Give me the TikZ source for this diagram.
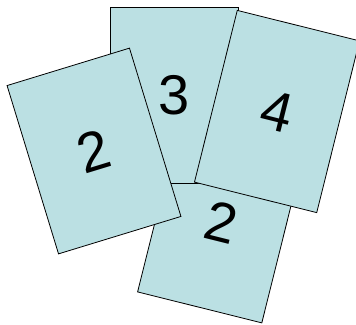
\documentclass[tikz,border=0pt]{standalone}
\usepackage{fontspec}
\setmainfont{Liberation Sans}
\usepackage{tikz}
\definecolor{cardblue}{RGB}{187,224,227}

\begin{document}
\begin{tikzpicture}[
  x=1pt,y=-1pt,
  card/.style={draw,line width=0.8pt,fill=cardblue,minimum width=128pt,minimum height=176pt,inner sep=0pt,
    font=\fontsize{56}{56}\selectfont}
]
\useasboundingbox (0,0) rectangle (356,324);
% back to front
\node[card,rotate=-14] (lowtwo) at (221,222) {2};
\node[card] (three) at (174,95) {3};
\node[card,rotate=17] (lefttwo) at (94,151) {2};
\node[card,rotate=-14,minimum width=126pt,minimum height=177pt] (four) at (277,111.5) {4};
\end{tikzpicture}
\end{document}
